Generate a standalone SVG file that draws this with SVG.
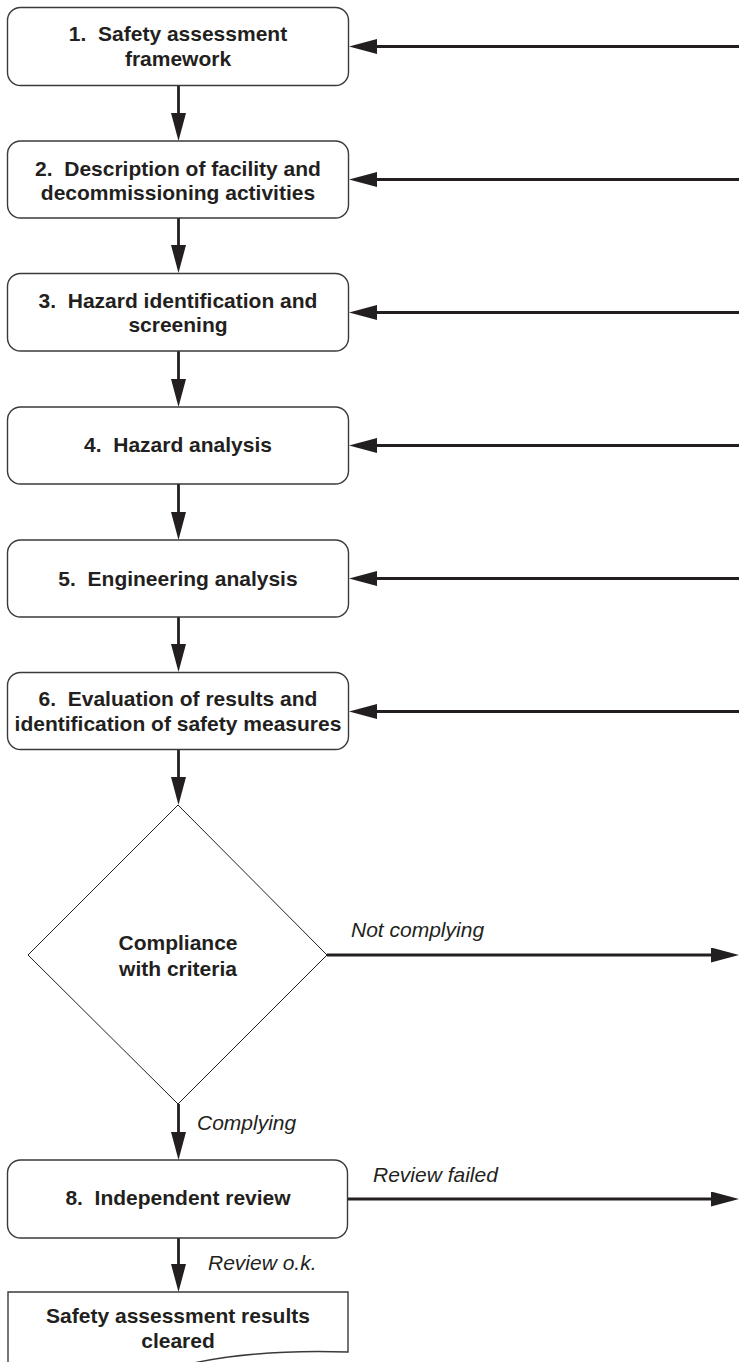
<svg xmlns="http://www.w3.org/2000/svg" width="739" height="1362" viewBox="0 0 739 1362">
<style>
.box{fill:#fff;stroke:#3a3a3a;stroke-width:1.4}
.dia{fill:#fff;stroke:#231f20;stroke-width:1}
.t{font-family:"Liberation Sans",Arial,sans-serif;font-weight:bold;font-size:21px;fill:#231f20;text-anchor:middle}
.l{font-family:"Liberation Sans",Arial,sans-serif;font-style:italic;font-size:21px;fill:#231f20}
.c{fill:none;stroke:#231f20;stroke-width:2.8;marker-end:url(#ah)}
</style>
<defs>
<marker id="ah" markerUnits="userSpaceOnUse" markerWidth="30" markerHeight="16" refX="20" refY="7.5" orient="auto">
<path d="M0,0 L28,7.5 L0,15 Z" fill="#231f20"/>
</marker>
</defs>
<g id="connectors">
<line class="c" x1="178.5" y1="86" x2="178.5" y2="133"/>
<line class="c" x1="178.5" y1="218" x2="178.5" y2="265"/>
<line class="c" x1="178.5" y1="351" x2="178.5" y2="399"/>
<line class="c" x1="178.5" y1="484" x2="178.5" y2="532"/>
<line class="c" x1="178.5" y1="617" x2="178.5" y2="664"/>
<line class="c" x1="178.5" y1="750" x2="178.5" y2="797"/>
<line class="c" x1="178.5" y1="1104" x2="178.5" y2="1152"/>
<line class="c" x1="178.5" y1="1238" x2="178.5" y2="1284"/>
<line class="c" x1="739" y1="46.5" x2="357" y2="46.5"/>
<line class="c" x1="739" y1="179.5" x2="357" y2="179.5"/>
<line class="c" x1="739" y1="312.5" x2="357" y2="312.5"/>
<line class="c" x1="739" y1="445.5" x2="357" y2="445.5"/>
<line class="c" x1="739" y1="578.5" x2="357" y2="578.5"/>
<line class="c" x1="739" y1="711.5" x2="357" y2="711.5"/>
<line class="c" x1="327" y1="955" x2="731" y2="955"/>
<line class="c" x1="348" y1="1199" x2="731" y2="1199"/>
<text class="l" x="351" y="937">Not complying</text>
<text class="l" x="197" y="1130">Complying</text>
<text class="l" x="373" y="1182">Review failed</text>
<text class="l" x="208" y="1270">Review o.k.</text>
</g>
<g id="n1">
<rect class="box" x="7.5" y="7.5" width="341" height="78" rx="13"/>
<text class="t" xml:space="preserve" x="178" y="40.5">1.  Safety assessment</text>
<text class="t" x="178" y="65.5">framework</text>
</g>
<g id="n2">
<rect class="box" x="7.5" y="141" width="341" height="77" rx="13"/>
<text class="t" xml:space="preserve" x="178" y="175.5">2.  Description of facility and</text>
<text class="t" x="178" y="200">decommissioning activities</text>
</g>
<g id="n3">
<rect class="box" x="7.5" y="273.5" width="341" height="77.5" rx="13"/>
<text class="t" xml:space="preserve" x="178" y="307.5">3.  Hazard identification and</text>
<text class="t" x="178" y="332">screening</text>
</g>
<g id="n4">
<rect class="box" x="7.5" y="407" width="341" height="77" rx="13"/>
<text class="t" xml:space="preserve" x="178" y="452">4.  Hazard analysis</text>
</g>
<g id="n5">
<rect class="box" x="7.5" y="540" width="341" height="77" rx="13"/>
<text class="t" xml:space="preserve" x="178" y="586">5.  Engineering analysis</text>
</g>
<g id="n6">
<rect class="box" x="7.5" y="672.5" width="341" height="77" rx="13"/>
<text class="t" xml:space="preserve" x="178" y="706">6.  Evaluation of results and</text>
<text class="t" x="178" y="731">identification of safety measures</text>
</g>
<g id="n7">
<polygon class="dia" points="178,805 327,955 178,1104 28,955"/>
<text class="t" x="178" y="950">Compliance</text>
<text class="t" x="178" y="975.5">with criteria</text>
</g>
<g id="n8">
<rect class="box" x="7.5" y="1160" width="340" height="78" rx="13"/>
<text class="t" xml:space="preserve" x="178" y="1205">8.  Independent review</text>
</g>
<g id="n9">
<path class="box" d="M8,1292 H348 V1352 C290,1350 230,1354 180,1366 L8,1366 Z"/>
<text class="t" x="178" y="1323">Safety assessment results</text>
<text class="t" x="178" y="1348">cleared</text>
</g>
</svg>
